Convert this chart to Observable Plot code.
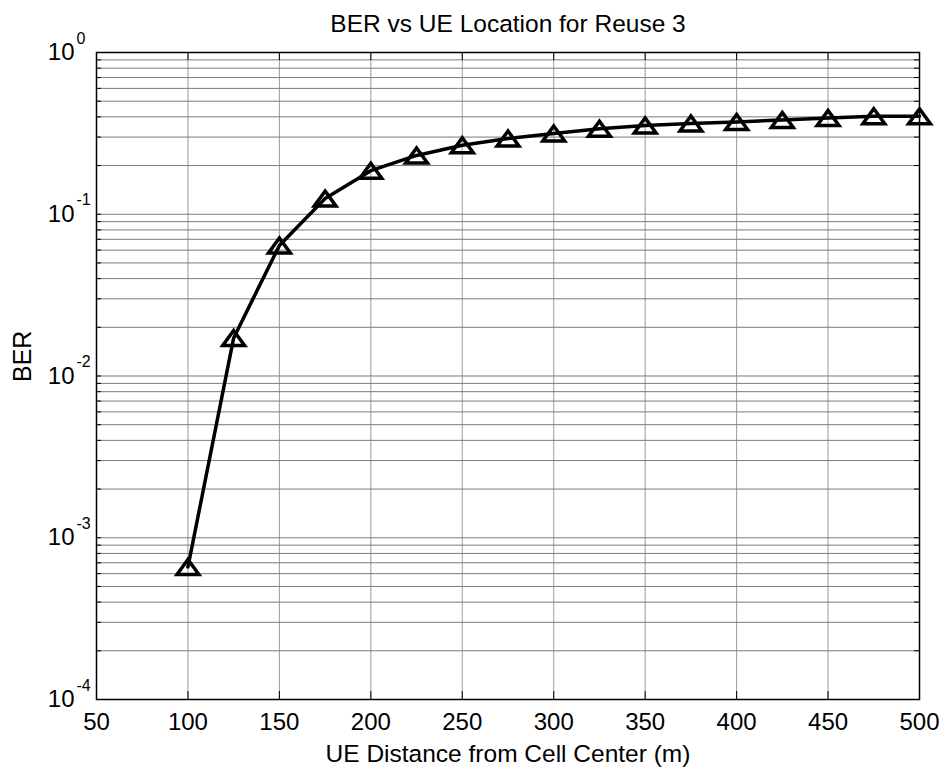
<!DOCTYPE html>
<html>
<head>
<meta charset="utf-8">
<script src="https://cdn.jsdelivr.net/npm/d3@7"></script>
<script src="https://cdn.jsdelivr.net/npm/@observablehq/plot@0.6"></script>
<style>
  html, body { margin: 0; padding: 0; background: #fff; }
</style>
</head>
<body>
<div id="chart"></div>
<script>
// UE distance from the cell centre (m) and the simulated bit error rate
const distance = [100, 125, 150, 175, 200, 225, 250, 275, 300, 325, 350, 375, 400, 425, 450, 475, 500];
const ber = [6.6e-4, 0.0172, 0.0641, 0.125, 0.186, 0.231, 0.267, 0.294, 0.316, 0.338, 0.354, 0.364, 0.372, 0.383, 0.394, 0.404, 0.403];

// axis ticks
const xTicks = [50, 100, 150, 200, 250, 300, 350, 400, 450, 500];
const yDecades = [1e-4, 1e-3, 1e-2, 1e-1, 1];
const yExponents = ["-4", "-3", "-2", "-1", "0"];

const titleText = "BER vs UE Location for Reuse 3";
const xLabel = "UE Distance from Cell Center (m)";
const yLabel = "BER";

const points = distance.map((d, i) => ({distance: d, ber: ber[i]}));

// log grid: 1..9 × 10^k inside every decade
const yGrid = yDecades.slice(0, -1).flatMap(d => d3.range(1, 10).map(m => m * d));

const W = 942, H = 767;
const mL = 96, mR = 23, mT = 52, mB = 68;
const innerW = W - mL - mR, innerH = H - mT - mB;

// open triangle marker, slightly flatter than equilateral
const triangle = {
  draw(context, size) {
    const r = Math.sqrt(size / Math.PI);
    const w = r * 0.95, h = r * 1.3;
    context.moveTo(0, -h / 2);
    context.lineTo(w, h / 2);
    context.lineTo(-w, h / 2);
    context.closePath();
  }
};

const chart = Plot.plot({
  width: W,
  height: H,
  marginLeft: mL,
  marginRight: mR,
  marginTop: mT,
  marginBottom: mB,
  style: {fontFamily: "'Liberation Sans', Arial, sans-serif", background: "#fff", color: "#000", overflow: "visible"},
  x: {domain: [50, 500], axis: null},
  y: {type: "log", domain: [1e-4, 1], axis: null},
  marks: [
    Plot.gridX(xTicks.slice(1, -1), {stroke: "#9a9a9a", strokeOpacity: 1}),
    Plot.gridY(yGrid.slice(1), {stroke: "#7a7a7a", strokeOpacity: 1}),
    // inward tick marks on all four sides
    Plot.tickY(yGrid, {y: d => d, insetRight: innerW - 5, stroke: "#000"}),
    Plot.tickY(yGrid, {y: d => d, insetLeft: innerW - 5, stroke: "#000"}),
    Plot.tickX(xTicks, {x: d => d, insetTop: innerH - 8, stroke: "#000"}),
    Plot.tickX(xTicks, {x: d => d, insetBottom: innerH - 8, stroke: "#000"}),
    Plot.frame({stroke: "#000", strokeWidth: 1.5}),
    // y tick labels as 10 with a raised exponent
    Plot.text(yDecades, {y: d => d, text: () => "10", frameAnchor: "left", textAnchor: "end", lineAnchor: "middle", dx: -22, fontSize: 24}),
    Plot.text(yDecades, {y: d => d, text: (d, i) => yExponents[i], frameAnchor: "left", textAnchor: "start", lineAnchor: "middle", dx: -20, dy: -14, fontSize: 16}),
    Plot.text(xTicks, {x: d => d, text: d => String(d), frameAnchor: "bottom", lineAnchor: "middle", dy: 22.5, fontSize: 24}),
    Plot.text([titleText], {text: d => d, frameAnchor: "top", lineAnchor: "middle", dy: -28, fontSize: 24.5}),
    Plot.text([xLabel], {text: d => d, frameAnchor: "bottom", lineAnchor: "bottom", dy: 62, fontSize: 24.5}),
    Plot.text([yLabel], {text: d => d, frameAnchor: "left", lineAnchor: "middle", dx: -73.5, dy: 6, rotate: -90, fontSize: 25}),
    // BER curve
    Plot.line(points, {x: "distance", y: "ber", stroke: "#000", strokeWidth: 3.5}),
    Plot.dot(points, {x: "distance", y: "ber", symbol: triangle, r: 11.5, stroke: "#000", strokeWidth: 3.5, fill: "none"})
  ]
});

document.getElementById("chart").append(chart);
</script>
</body>
</html>
